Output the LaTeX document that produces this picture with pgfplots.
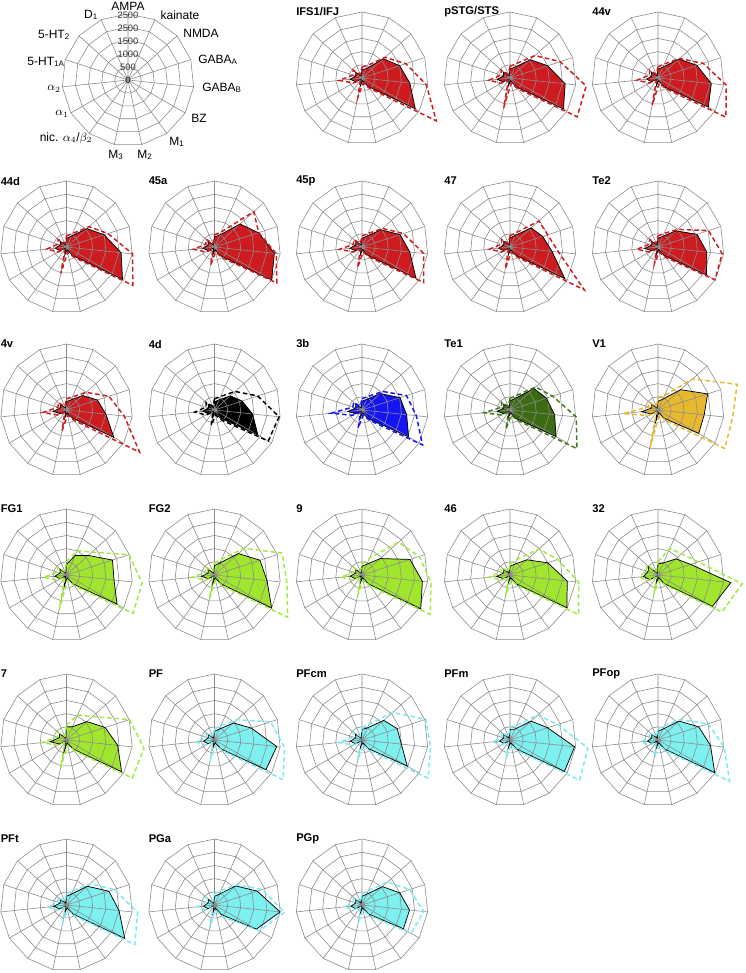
\documentclass[border=0pt]{standalone}
\usepackage{pgfplots}
\pgfplotsset{compat=1.18}
\usepackage{pgfplotstable}
\usepackage{fontspec}
\setmainfont{Liberation Sans}

\definecolor{cred}{RGB}{205,27,32}
\definecolor{cblue}{RGB}{20,20,245}
\definecolor{cdkgreen}{RGB}{61,107,18}
\definecolor{cdkgreend}{RGB}{65,120,25}
\definecolor{cgold}{RGB}{232,185,45}
\definecolor{clime}{RGB}{160,230,45}
\definecolor{climed}{RGB}{160,235,60}
\definecolor{ccyan}{RGB}{125,240,240}
\definecolor{ccyand}{RGB}{120,235,240}
\definecolor{gridc}{RGB}{140,140,140}

% order: AMPA, kainate, NMDA, GABA_A, GABA_B, BZ, M1, M2, M3, nic, a1, a2, 5-HT1A, 5-HT2, D1, (AMPA)
\pgfplotstableread[row sep=\\]{v\\330\\380\\1090\\1500\\1820\\2330\\400\\110\\300\\50\\280\\450\\250\\320\\80\\330\\}\IFSm
\pgfplotstableread[row sep=\\]{v\\420\\520\\1170\\1750\\2450\\3250\\480\\200\\750\\110\\380\\875\\350\\450\\150\\420\\}\IFSs
\pgfplotstableread[row sep=\\]{v\\340\\450\\1035\\1500\\2100\\2340\\420\\110\\300\\50\\300\\480\\260\\330\\80\\340\\}\pSTGm
\pgfplotstableread[row sep=\\]{v\\440\\600\\1270\\2000\\2900\\2940\\500\\200\\1150\\110\\400\\800\\360\\450\\150\\440\\}\pSTGs
\pgfplotstableread[row sep=\\]{v\\330\\450\\1070\\1550\\2030\\2200\\420\\110\\300\\50\\280\\430\\250\\330\\80\\330\\}\Avm
\pgfplotstableread[row sep=\\]{v\\420\\580\\1100\\1800\\2600\\2970\\500\\200\\1050\\110\\380\\800\\340\\430\\150\\420\\}\Avs
\pgfplotstableread[row sep=\\]{v\\330\\450\\1040\\1500\\2080\\2450\\400\\110\\300\\50\\280\\430\\250\\320\\80\\330\\}\Adm
\pgfplotstableread[row sep=\\]{v\\420\\560\\1150\\1650\\2520\\2900\\480\\200\\1020\\110\\380\\750\\340\\430\\150\\420\\}\Ads
\pgfplotstableread[row sep=\\]{v\\380\\500\\1300\\1750\\2280\\2500\\420\\110\\300\\50\\280\\450\\250\\330\\80\\380\\}\Bam
\pgfplotstableread[row sep=\\]{v\\460\\620\\2000\\1760\\2350\\2730\\500\\200\\700\\110\\380\\800\\340\\440\\150\\460\\}\Bas
\pgfplotstableread[row sep=\\]{v\\330\\450\\970\\1515\\1820\\2360\\400\\110\\300\\50\\280\\460\\250\\320\\80\\330\\}\Bpm
\pgfplotstableread[row sep=\\]{v\\420\\560\\1050\\1650\\2350\\2700\\480\\200\\800\\110\\380\\860\\340\\430\\150\\420\\}\Bps
\pgfplotstableread[row sep=\\]{v\\340\\480\\1080\\1300\\1600\\2400\\400\\110\\300\\50\\280\\430\\250\\320\\80\\340\\}\Cm
\pgfplotstableread[row sep=\\]{v\\430\\600\\1470\\1500\\1850\\3250\\480\\200\\850\\110\\380\\780\\340\\430\\150\\430\\}\Cs
\pgfplotstableread[row sep=\\]{v\\330\\440\\913\\1555\\1860\\2120\\400\\110\\300\\50\\280\\500\\250\\320\\80\\330\\}\TeTm
\pgfplotstableread[row sep=\\]{v\\420\\560\\1000\\2010\\2445\\2490\\480\\200\\650\\110\\380\\810\\340\\420\\150\\420\\}\TeTs
\pgfplotstableread[row sep=\\]{v\\320\\420\\820\\1230\\1500\\2070\\380\\110\\300\\50\\280\\500\\250\\320\\80\\320\\}\Dvm
\pgfplotstableread[row sep=\\]{v\\420\\540\\1000\\1690\\2200\\3200\\480\\200\\800\\110\\380\\900\\340\\420\\150\\420\\}\Dvs
\pgfplotstableread[row sep=\\]{v\\310\\420\\800\\1100\\1450\\1900\\380\\110\\280\\50\\280\\450\\250\\320\\80\\310\\}\Ddm
\pgfplotstableread[row sep=\\]{v\\420\\560\\1050\\1720\\2460\\2350\\480\\200\\600\\110\\380\\750\\340\\430\\150\\420\\}\Dds
\pgfplotstableread[row sep=\\]{v\\330\\440\\930\\1515\\1700\\2040\\400\\110\\300\\50\\280\\540\\250\\320\\80\\330\\}\Ebm
\pgfplotstableread[row sep=\\]{v\\430\\560\\1050\\1770\\2070\\2650\\480\\200\\700\\110\\400\\1170\\360\\430\\150\\430\\}\Ebs
\pgfplotstableread[row sep=\\]{v\\350\\480\\1220\\1450\\1700\\2010\\400\\110\\300\\50\\280\\480\\250\\320\\80\\350\\}\TeOm
\pgfplotstableread[row sep=\\]{v\\440\\600\\1300\\1700\\2520\\2930\\480\\200\\750\\110\\380\\990\\340\\430\\150\\440\\}\TeOs
\pgfplotstableread[row sep=\\]{v\\330\\450\\1150\\1975\\1760\\1780\\380\\110\\525\\50\\300\\625\\250\\320\\80\\330\\}\VOm
\pgfplotstableread[row sep=\\]{v\\460\\600\\1760\\3150\\2840\\2915\\480\\200\\1465\\110\\420\\1325\\380\\430\\150\\460\\}\VOs
\pgfplotstableread[row sep=\\]{v\\400\\810\\1110\\1830\\1810\\2210\\420\\110\\500\\50\\280\\440\\250\\330\\80\\400\\}\FGOm
\pgfplotstableread[row sep=\\]{v\\500\\1000\\1300\\2490\\2880\\2910\\500\\200\\1340\\110\\400\\875\\350\\450\\150\\500\\}\FGOs
\pgfplotstableread[row sep=\\]{v\\360\\500\\1215\\1810\\2000\\2500\\420\\110\\350\\50\\280\\480\\250\\330\\80\\360\\}\FGTm
\pgfplotstableread[row sep=\\]{v\\450\\650\\1510\\2690\\2760\\3200\\500\\200\\900\\110\\380\\850\\350\\450\\150\\450\\}\FGTs
\pgfplotstableread[row sep=\\]{v\\330\\450\\930\\1910\\2300\\2570\\420\\110\\300\\50\\280\\450\\250\\320\\80\\330\\}\Nm
\pgfplotstableread[row sep=\\]{v\\420\\700\\1860\\2280\\2630\\2980\\500\\200\\800\\110\\380\\800\\350\\430\\150\\420\\}\Ns
\pgfplotstableread[row sep=\\]{v\\330\\450\\860\\1500\\2180\\2490\\420\\110\\300\\50\\280\\500\\250\\320\\80\\330\\}\FSm
\pgfplotstableread[row sep=\\]{v\\420\\650\\1470\\1900\\2620\\3000\\500\\200\\800\\110\\380\\810\\350\\430\\150\\420\\}\FSs
\pgfplotstableread[row sep=\\]{v\\420\\500\\913\\1300\\2770\\2380\\400\\110\\300\\50\\350\\560\\400\\470\\80\\420\\}\TTm
\pgfplotstableread[row sep=\\]{v\\500\\1100\\1200\\1610\\3200\\2800\\480\\200\\700\\110\\450\\700\\480\\550\\150\\500\\}\TTs
\pgfplotstableread[row sep=\\]{v\\500\\550\\1040\\1540\\1950\\2410\\420\\110\\500\\50\\300\\625\\280\\350\\80\\500\\}\Sm
\pgfplotstableread[row sep=\\]{v\\560\\1040\\1330\\2510\\2950\\2880\\500\\200\\1085\\110\\400\\940\\360\\450\\150\\560\\}\Ss
\pgfplotstableread[row sep=\\]{v\\330\\450\\965\\1465\\2370\\2250\\420\\110\\300\\50\\280\\420\\250\\320\\80\\330\\}\PFm
\pgfplotstableread[row sep=\\]{v\\420\\600\\1150\\2230\\2670\\3000\\500\\200\\700\\110\\380\\700\\340\\430\\150\\420\\}\PFs
\pgfplotstableread[row sep=\\]{v\\400\\500\\1110\\1400\\1500\\1980\\400\\110\\300\\50\\280\\450\\250\\330\\80\\400\\}\PFcmm
\pgfplotstableread[row sep=\\]{v\\480\\650\\1560\\2540\\2610\\2885\\500\\200\\800\\110\\380\\900\\350\\450\\150\\480\\}\PFcms
\pgfplotstableread[row sep=\\]{v\\400\\450\\1070\\1500\\2460\\2380\\420\\110\\300\\50\\260\\400\\250\\320\\80\\400\\}\PFmm
\pgfplotstableread[row sep=\\]{v\\480\\600\\1410\\1900\\2970\\3040\\500\\200\\650\\110\\360\\650\\340\\430\\150\\480\\}\PFms
\pgfplotstableread[row sep=\\]{v\\330\\450\\1070\\1620\\2000\\2480\\420\\110\\300\\50\\260\\400\\250\\320\\80\\330\\}\PFopm
\pgfplotstableread[row sep=\\]{v\\420\\600\\1150\\1990\\2520\\3130\\500\\200\\650\\110\\360\\650\\340\\430\\150\\420\\}\PFops
\pgfplotstableread[row sep=\\]{v\\330\\450\\1060\\1690\\2000\\2550\\420\\110\\300\\50\\300\\480\\250\\320\\80\\330\\}\PFtm
\pgfplotstableread[row sep=\\]{v\\420\\600\\1200\\1900\\2710\\2990\\500\\200\\650\\110\\400\\700\\340\\430\\150\\420\\}\PFts
\pgfplotstableread[row sep=\\]{v\\330\\450\\1080\\1700\\2500\\1830\\450\\110\\300\\50\\280\\420\\250\\320\\80\\330\\}\PGam
\pgfplotstableread[row sep=\\]{v\\420\\600\\1150\\1900\\2670\\1950\\550\\200\\900\\110\\380\\650\\340\\430\\150\\420\\}\PGas
\pgfplotstableread[row sep=\\]{v\\330\\450\\1040\\1500\\1810\\1810\\420\\110\\300\\50\\280\\420\\250\\320\\80\\330\\}\PGpm
\pgfplotstableread[row sep=\\]{v\\420\\600\\1300\\1900\\2350\\2150\\500\\200\\650\\110\\380\\650\\340\\430\\150\\420\\}\PGps

\pgfplotsset{
  radar/.style={width=99pt, height=99pt, scale only axis,
    xmin=-2500, xmax=2500, ymin=-2500, ymax=2500,
    hide axis, clip=false, anchor=origin},
  table/rad/.style={x index=0, y index=0,
              x expr={\thisrow{v}*cos(90-24*\coordindex)},
              y expr={\thisrow{v}*sin(90-24*\coordindex)}},
}

\newcommand{\rgrid}{%
  \draw[gridc, line width=0.45pt] \foreach \r in {500,1000,1500,2000,2500}{
     (axis cs:0,\r) \foreach \k in {1,...,14}{ -- (axis cs:{\r*cos(90-24*\k)},{\r*sin(90-24*\k)}) } -- cycle };
  \draw[gridc, line width=0.45pt] \foreach \k in {0,...,14}{
     (axis cs:0,0) -- (axis cs:{2500*cos(90-24*\k)},{2500*sin(90-24*\k)}) };
}

\newcommand{\titlefont}{\fontsize{8.4}{9}\selectfont\bfseries}

\newcommand{\radar}[7]{%
\begin{axis}[radar, at={({#1*0.75pt},{-#2*0.75pt})}]
  \addplot[fill=#4, draw=none, mark=none] table[rad] {#6};
  \rgrid
  \addplot[draw=black, line width=0.55pt, mark=none] table[rad] {#6};
  \addplot[draw=#5, line width=1.1pt, mark=none, dash pattern=on 3.4pt off 2.2pt] table[rad] {#7};
\end{axis}
\node[anchor=west, font=\titlefont, inner sep=0pt] at (#1-66,-#2+66) {#3};
}

\begin{document}
\begin{tikzpicture}[x=0.75pt, y=0.75pt]
\path[use as bounding box] (0,0) rectangle (745,-973);

% legend radar
\begin{axis}[radar, at={({128*0.75pt},{-80*0.75pt})}]
  \rgrid
\end{axis}
\begin{scope}[every node/.style={font=\fontsize{7}{8}\selectfont, text=black!80, inner sep=0pt}]
\node at (128,-80) {0};
\node at (128,-67.5) {500};
\node at (128,-54.5) {1000};
\node at (128,-41.5) {1500};
\node at (128,-28.5) {2500};
\node at (128,-15) {2500};
\end{scope}
\begin{scope}[every node/.style={font=\fontsize{9}{10}\selectfont, inner sep=0pt}]
\node at (128,-6) {AMPA};
\node at (180,-15) {kainate};
\node at (201,-33) {NMDA};
\node at (218,-60) {GABA\textsubscript{A}};
\node at (222,-88) {GABA\textsubscript{B}};
\node at (199,-118) {BZ};
\node at (177,-142) {M\textsubscript{1}};
\node at (145,-155) {M\textsubscript{2}};
\node at (116,-155) {M\textsubscript{3}};
\node at (66,-138) {nic. $\alpha_4$/$\beta_2$};
\node at (62,-114) {$\alpha_1$};
\node at (54,-89) {$\alpha_2$};
\node at (46,-62) {5-HT\textsubscript{1A}};
\node at (54,-35) {5-HT\textsubscript{2}};
\node at (91,-15) {D\textsubscript{1}};
\end{scope}

% row 1
\radar{362}{78}{IFS1/IFJ}{cred}{cred}{\IFSm}{\IFSs}
\radar{510}{78}{pSTG/STS}{cred}{cred}{\pSTGm}{\pSTGs}
\radar{658}{78}{44v}{cred}{cred}{\Avm}{\Avs}
% row 2
\radar{66.5}{247}{44d}{cred}{cred}{\Adm}{\Ads}
\radar{214.5}{247}{45a}{cred}{cred}{\Bam}{\Bas}
\radar{362}{247}{45p}{cred}{cred}{\Bpm}{\Bps}
\radar{510}{247}{47}{cred}{cred}{\Cm}{\Cs}
\radar{658}{247}{Te2}{cred}{cred}{\TeTm}{\TeTs}
% row 3
\radar{66.5}{410}{4v}{cred}{cred}{\Dvm}{\Dvs}
\radar{214.5}{410}{4d}{black}{black}{\Ddm}{\Dds}
\radar{362}{410}{3b}{cblue}{cblue}{\Ebm}{\Ebs}
\radar{510}{410}{Te1}{cdkgreen}{cdkgreend}{\TeOm}{\TeOs}
\radar{658}{410}{V1}{cgold}{cgold}{\VOm}{\VOs}
% row 4
\radar{66.5}{575}{FG1}{clime}{climed}{\FGOm}{\FGOs}
\radar{214.5}{575}{FG2}{clime}{climed}{\FGTm}{\FGTs}
\radar{362}{575}{9}{clime}{climed}{\Nm}{\Ns}
\radar{510}{575}{46}{clime}{climed}{\FSm}{\FSs}
\radar{658}{575}{32}{clime}{climed}{\TTm}{\TTs}
% row 5
\radar{66.5}{740}{7}{clime}{climed}{\Sm}{\Ss}
\radar{214.5}{740}{PF}{ccyan}{ccyand}{\PFm}{\PFs}
\radar{362}{740}{PFcm}{ccyan}{ccyand}{\PFcmm}{\PFcms}
\radar{510}{740}{PFm}{ccyan}{ccyand}{\PFmm}{\PFms}
\radar{658}{740}{PFop}{ccyan}{ccyand}{\PFopm}{\PFops}
% row 6
\radar{66.5}{905}{PFt}{ccyan}{ccyand}{\PFtm}{\PFts}
\radar{214.5}{905}{PGa}{ccyan}{ccyand}{\PGam}{\PGas}
\radar{362}{905}{PGp}{ccyan}{ccyand}{\PGpm}{\PGps}
\end{tikzpicture}
\end{document}
